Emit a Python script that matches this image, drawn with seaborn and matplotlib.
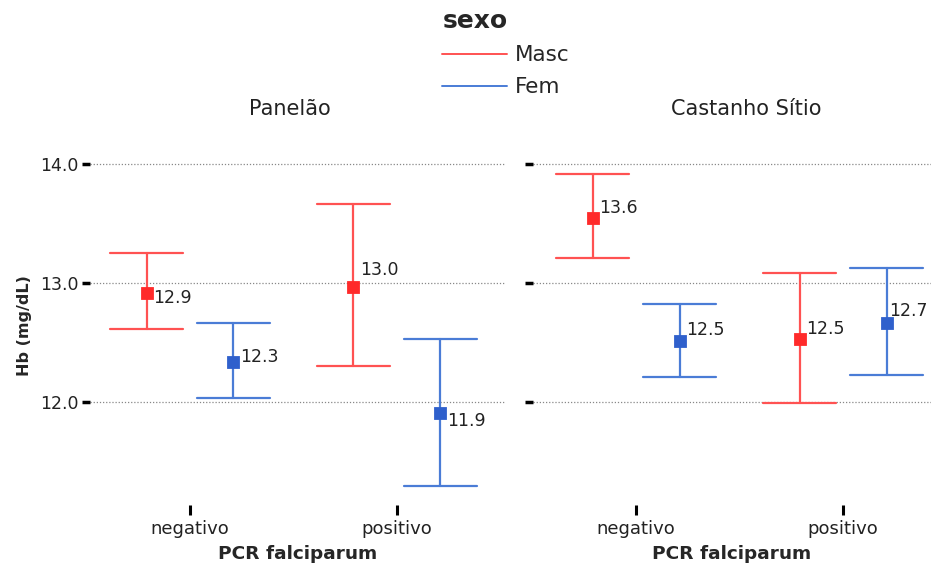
import numpy as np
import pandas as pd
import matplotlib
matplotlib.use("Agg")
import matplotlib.pyplot as plt
from matplotlib.lines import Line2D
import matplotlib.colors as mcolors
import seaborn as sns

# ---- data ----
locais = ["Panelão", "Castanho Sítio"]
pcr_levels = ["negativo", "positivo"]
sexo_levels = ["Masc", "Fem"]

# order: (negativo Masc, negativo Fem, positivo Masc, positivo Fem)
panelao_mean = [12.92, 12.34, 12.97, 11.91]
panelao_low = [12.61, 12.03, 12.30, 11.29]
panelao_high = [13.25, 12.66, 13.66, 12.53]
panelao_labels = ["12.9", "12.3", "13.0", "11.9"]

castanho_mean = [13.55, 12.51, 12.53, 12.66]
castanho_low = [13.21, 12.21, 11.99, 12.23]
castanho_high = [13.92, 12.82, 13.08, 13.13]
castanho_labels = ["13.6", "12.5", "12.5", "12.7"]

y_ticks = [12.0, 13.0, 14.0]
y_ticklabels = ["12.0", "13.0", "14.0"]

groups = [("negativo", "Masc"), ("negativo", "Fem"), ("positivo", "Masc"), ("positivo", "Fem")]

colors = {"Masc": "#ff2a2a", "Fem": "#2f60cc"}
line_colors = {"Masc": "#ff5252", "Fem": "#4a7cd6"}


def long_frame(means, lows, highs):
    rows = []
    for (pcr, sx), m, lo, hi in zip(groups, means, lows, highs):
        for v in (lo, m, hi):
            rows.append({"PCR": pcr, "sexo": sx, "Hb": v})
    return pd.DataFrame(rows)


sns.set_theme(style="white")
plt.rcParams["font.family"] = ["DejaVu Sans"]

W, H = 931, 566
fig = plt.figure(figsize=(W / 100, H / 100), dpi=100)

def add_ax(x0, x1, y_top, y_bot):
    return fig.add_axes([x0 / W, 1 - y_bot / H, (x1 - x0) / W, (y_bot - y_top) / H])

ax1 = add_ax(90, 505, 125, 505)
ax2 = add_ax(533, 931, 125, 505)

panels = [
    (ax1, "Panelão", panelao_mean, panelao_low, panelao_high, panelao_labels, (-0.483, 1.522), True, (290 - 90) / 415),
    (ax2, "Castanho Sítio", castanho_mean, castanho_low, castanho_high, castanho_labels, (-0.498, 1.425), False, (746 - 533) / 398),
]

label_off = {"Panelão": [(7, -5), (7, 5), (7, 17), (7, -8)],
             "Castanho Sítio": [(7, 10), (7, 11), (7, 10), (3, 12)]}

marker_to_line = {mcolors.to_hex(colors[s]): line_colors[s] for s in sexo_levels}

for ax, title, means, lows, highs, labels, xlim, show_y, tx in panels:
    df = long_frame(means, lows, highs)
    sns.pointplot(
        data=df, x="PCR", y="Hb", hue="sexo",
        order=pcr_levels, hue_order=sexo_levels,
        estimator="median", errorbar=lambda v: (v.min(), v.max()),
        dodge=0.42, markers="s", linestyle="none",
        palette=colors, capsize=0.35, markersize=7,
        err_kws={"linewidth": 1.6}, legend=False, ax=ax,
    )
    # lighter tone for the error bar lines, like the reference
    for ln in ax.lines:
        if ln.get_marker() in ("None", "", None, " "):
            c = mcolors.to_hex(ln.get_color())
            if c in marker_to_line:
                ln.set_color(marker_to_line[c])
    for ln in ax.lines:
        if ln.get_marker() == "s":
            ln.set_zorder(5)
    for i, ((pcr, sx), m, lab) in enumerate(zip(groups, means, labels)):
        xpos = pcr_levels.index(pcr) + (-0.21 if sx == "Masc" else 0.21)
        ax.annotate(lab, (xpos, m), xytext=label_off[title][i], textcoords="offset pixels",
                    ha="left", va="center", fontsize=12.5, color="#222222", zorder=6)
    ax.set_xlim(*xlim)
    ax.set_ylim(11.134, 14.328)
    ax.set_yticks(y_ticks)
    if show_y:
        ax.set_yticklabels(y_ticklabels, fontsize=12.5, color="#222222")
        ax.set_ylabel("Hb (mg/dL)", fontsize=11.5, fontweight="bold")
        ax.yaxis.set_label_coords(-58 / 415, 1 - (326 - 125) / 380)
    else:
        ax.set_yticklabels([])
        ax.set_ylabel("")
    ax.set_xticks([0, 1])
    ax.set_xticklabels(pcr_levels, fontsize=13, color="#222222")
    ax.set_xlabel("PCR falciparum", fontsize=13.3, fontweight="bold", labelpad=5)
    ax.set_title(title, fontsize=15, pad=7, color="#222222", x=tx)
    for s in ax.spines.values():
        s.set_visible(False)
    ax.tick_params(axis="y", length=6, width=2.5, color="black", pad=2, left=True)
    ax.tick_params(axis="x", length=7, width=2.2, color="black", pad=4, bottom=True)
    for yv in y_ticks:
        ax.axhline(yv, color="#888888", linestyle=(0, (1, 1.5)), linewidth=0.9, zorder=0)
    ax.set_facecolor("white")

handles = [Line2D([], [], color=line_colors[s], linewidth=1.4) for s in sexo_levels]
leg = fig.legend(handles, sexo_levels, title="sexo", loc="upper left",
                 bbox_to_anchor=(436 / W, 1 - 3 / H), frameon=False, borderaxespad=0, borderpad=0.3,
                 fontsize=15.5, handlelength=3.0, handletextpad=0.37, labelspacing=0.55,
                 title_fontproperties={"weight": "bold", "size": 18})
leg._legend_box.align = "left"

fig.savefig("out.png", dpi=100)
